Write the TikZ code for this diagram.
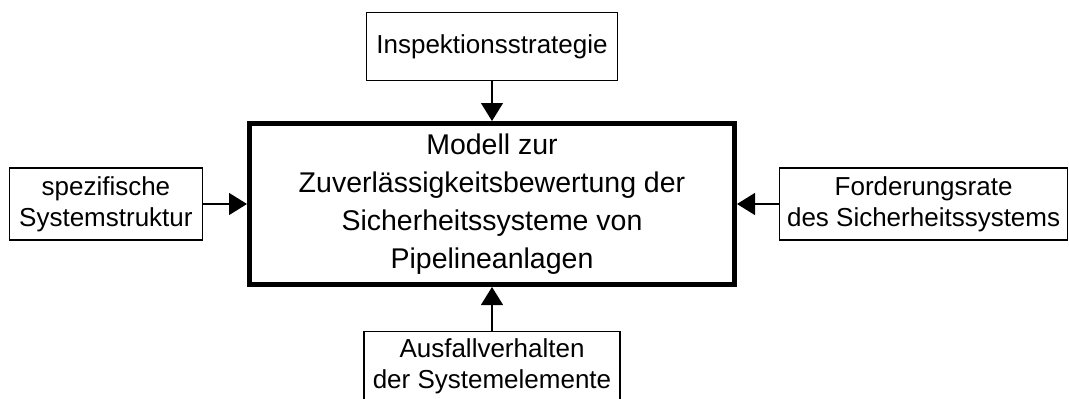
\documentclass[tikz,border=0pt]{standalone}
\usepackage{fontspec}
\setmainfont{Liberation Sans}
\usetikzlibrary{positioning,arrows.meta}
\tikzset{node distance=42pt, auto,
  kasten/.style={draw, line width=1.2pt, align=center, inner sep=0pt,
    font=\fontsize{26}{31}\selectfont},
  modellbox/.style={draw, line width=5pt, align=center, inner sep=0pt,
    minimum width=485pt, minimum height=161pt, font=\fontsize{28.5}{38}\selectfont},
  pfeil/.style={-{Triangle[length=18pt,width=22pt]}, line width=1.2pt}}

\begin{document}
\begin{tikzpicture}
\useasboundingbox (0pt,0pt) rectangle (1069pt,-399pt);
\node (modell) [modellbox] at (492pt,-204pt) {Modell zur\\Zuverlässigkeitsbewertung der\\Sicherheitssysteme von\\Pipelineanlagen};
\node (insp) [kasten, minimum width=251pt, minimum height=68pt, above=40pt of modell] {Inspektionsstrategie};
\node (struktur) [kasten, minimum width=193pt, minimum height=72pt, left=44pt of modell] {spezifische\\Systemstruktur};
\node (forder) [kasten, minimum width=288pt, minimum height=72pt, right=42pt of modell] {Forderungsrate\\des Sicherheitssystems};
\node (ausfall) [kasten, minimum width=256pt, minimum height=70pt, below=44pt of modell] {Ausfallverhalten\\der Systemelemente};
\draw[pfeil] (insp) -- (modell);
\draw[pfeil] (struktur) -- (modell);
\draw[pfeil] (forder) -- (modell);
\draw[pfeil] (ausfall) -- (modell);
\end{tikzpicture}
\end{document}
